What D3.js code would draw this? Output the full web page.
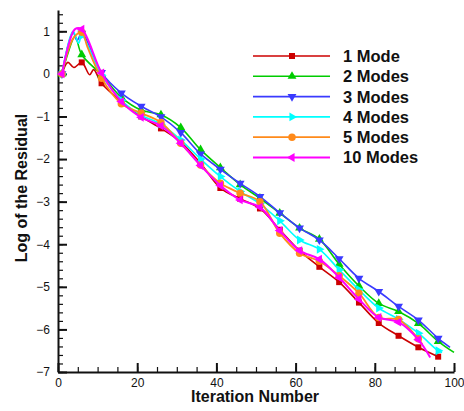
<!DOCTYPE html>
<html>
<head>
<meta charset="utf-8">
<script src="https://cdn.jsdelivr.net/npm/d3@7"></script>
<style>
  body { margin: 0; background: #fff; }
  svg { font-family: "Liberation Sans", Arial, sans-serif; }
  .tick text { font-size: 12px; fill: #111; }
  .axis-title { font-size: 16px; font-weight: bold; fill: #111; }
  .legend-label { font-size: 16.5px; font-weight: bold; fill: #111; }
</style>
</head>
<body>
<svg id="chart" width="464" height="411"></svg>
<script>
// [iteration, log residual]
const mode1 = [[1,0],[2.5,0.27],[4,0.15],[6,0.27],[8,-0.02],[9,0.1],[11,-0.22],[16,-0.65],[21,-1.0],[26,-1.28],[31,-1.6],[36,-2.1],[41,-2.68],[46,-2.93],[51,-3.16],[56,-3.66],[61,-4.15],[66,-4.53],[71,-4.89],[76,-5.37],[81,-5.85],[86,-6.15],[91,-6.42],[96,-6.64]];
const mode2 = [[1,0],[2.5,0.48],[4.3,0.88],[6,0.45],[11,-0.02],[16,-0.55],[21,-0.85],[26,-0.96],[31,-1.26],[36,-1.78],[41,-2.2],[46,-2.6],[51,-2.92],[56,-3.27],[61,-3.62],[66,-3.88],[71,-4.47],[76,-4.98],[81,-5.39],[86,-5.58],[91,-5.86],[96,-6.28],[100,-6.54]];
const mode3 = [[1,0],[3.8,0.98],[4.8,0.78],[6,0.95],[11,0.03],[16,-0.45],[21,-0.76],[26,-1.01],[31,-1.38],[36,-1.88],[41,-2.24],[46,-2.57],[51,-2.88],[56,-3.26],[61,-3.62],[66,-3.9],[71,-4.34],[76,-4.8],[81,-5.11],[86,-5.46],[91,-5.78],[96,-6.21],[99,-6.42]];
const mode4 = [[1,0],[3.8,1.0],[5.2,0.72],[6,0.9],[11,-0.03],[16,-0.62],[21,-0.97],[26,-1.18],[31,-1.55],[36,-2.0],[41,-2.41],[46,-2.76],[51,-3.05],[56,-3.45],[61,-3.9],[66,-4.12],[71,-4.6],[76,-5.07],[81,-5.5],[86,-5.76],[91,-6.09],[96,-6.5],[97,-6.54]];
const mode5 = [[1,0],[3.9,0.84],[6,0.98],[7.4,0.64],[11,-0.1],[16,-0.7],[21,-0.92],[26,-1.14],[31,-1.63],[36,-2.14],[41,-2.57],[46,-2.8],[51,-3.0],[56,-3.74],[61,-4.21],[66,-4.4],[71,-4.74],[76,-5.15],[81,-5.72],[86,-5.77],[91,-6.22],[92,-6.35]];
const mode10 = [[1,0],[4.3,1.05],[6,1.05],[11,0.02],[16,-0.65],[21,-1.02],[26,-1.22],[31,-1.63],[36,-2.15],[41,-2.62],[46,-2.96],[51,-3.13],[56,-3.68],[61,-4.15],[66,-4.35],[71,-4.78],[76,-5.29],[81,-5.72],[86,-5.83],[91,-6.24],[94,-6.66]];

const seriesNames = ["1 Mode", "2 Modes", "3 Modes", "4 Modes", "5 Modes", "10 Modes"];
const xTicks = [0, 20, 40, 60, 80, 100];
const yTicks = [-7, -6, -5, -4, -3, -2, -1, 0, 1];

const series = [
  { name: seriesNames[0], data: mode1, color: "#cc0000", symbol: d3.symbolSquare, rotate: 0, size: 36, width: 1.6 },
  { name: seriesNames[1], data: mode2, color: "#00cc00", symbol: d3.symbolTriangle, rotate: 0, size: 34, width: 1.6 },
  { name: seriesNames[2], data: mode3, color: "#3a3aff", symbol: d3.symbolTriangle, rotate: 180, size: 34, width: 1.6 },
  { name: seriesNames[3], data: mode4, color: "#00ffff", symbol: d3.symbolTriangle, rotate: 90, size: 34, width: 1.6 },
  { name: seriesNames[4], data: mode5, color: "#ff8a1a", symbol: d3.symbolCircle, rotate: 0, size: 44, width: 1.8 },
  { name: seriesNames[5], data: mode10, color: "#ff00ff", symbol: d3.symbolTriangle, rotate: -90, size: 34, width: 2 }
];

const svg = d3.select("#chart");
const x = d3.scaleLinear().domain([0, 100]).range([58, 454]);
const y = d3.scaleLinear().domain([-7, 1.5]).range([372, 10]);

// minor ticks
svg.append("g")
  .attr("transform", "translate(0,372)")
  .call(d3.axisBottom(x).tickValues(d3.range(0, 101, 5)).tickSize(-5).tickFormat(""))
  .call(g => g.select(".domain").remove())
  .call(g => g.selectAll("line").attr("stroke", "#111").attr("stroke-width", 1.2));

svg.append("g")
  .attr("transform", "translate(58,0)")
  .call(d3.axisLeft(y).tickValues(d3.range(-7, 1.5, 0.2)).tickSize(-5).tickFormat(""))
  .call(g => g.select(".domain").remove())
  .call(g => g.selectAll("line").attr("stroke", "#111").attr("stroke-width", 1.2));

// major ticks
svg.append("g")
  .attr("transform", "translate(0,372)")
  .call(d3.axisBottom(x).tickValues(xTicks).tickSize(-9).tickSizeOuter(0).tickPadding(6).tickFormat(d3.format("d")))
  .call(g => g.select(".domain").attr("stroke", "#111").attr("stroke-width", 2))
  .call(g => g.selectAll("line").attr("stroke", "#111").attr("stroke-width", 2));

svg.append("g")
  .attr("transform", "translate(58,0)")
  .call(d3.axisLeft(y).tickValues(yTicks).tickSize(-9).tickSizeOuter(0).tickPadding(8).tickFormat(d3.format("d")))
  .call(g => g.select(".domain").attr("stroke", "#111").attr("stroke-width", 2))
  .call(g => g.selectAll("line").attr("stroke", "#111").attr("stroke-width", 2));

svg.append("text")
  .attr("class", "axis-title")
  .attr("x", 255)
  .attr("y", 402)
  .attr("text-anchor", "middle")
  .text("Iteration Number");

svg.append("text")
  .attr("class", "axis-title")
  .attr("transform", "translate(27,188) rotate(-90)")
  .attr("text-anchor", "middle")
  .text("Log of the Residual");

const line = d3.line()
  .x(d => x(d[0]))
  .y(d => y(d[1]))
  .curve(d3.curveCatmullRom.alpha(0.5));

const isMarker = d => Number.isInteger(d[0]) && (d[0] - 1) % 5 === 0;

series.forEach(s => {
  const g = svg.append("g");
  g.append("path")
    .attr("d", line(s.data))
    .attr("fill", "none")
    .attr("stroke", s.color)
    .attr("stroke-width", s.width)
    .attr("stroke-linejoin", "round");

  g.selectAll("path.marker")
    .data(s.data.filter(isMarker))
    .enter()
    .append("path")
    .attr("class", "marker")
    .attr("d", d3.symbol().type(s.symbol).size(s.size))
    .attr("transform", d => `translate(${x(d[0])},${y(d[1])}) rotate(${s.rotate})`)
    .attr("fill", s.color);
});

// legend
const legend = svg.append("g");
series.forEach((s, i) => {
  const ly = 56 + i * 20.3;
  legend.append("line")
    .attr("x1", 253).attr("x2", 330)
    .attr("y1", ly).attr("y2", ly)
    .attr("stroke", s.color)
    .attr("stroke-width", s.width);
  legend.append("path")
    .attr("d", d3.symbol().type(s.symbol).size(s.size))
    .attr("transform", `translate(292,${ly}) rotate(${s.rotate})`)
    .attr("fill", s.color);
  legend.append("text")
    .attr("class", "legend-label")
    .attr("x", 343)
    .attr("y", ly)
    .attr("dy", "0.36em")
    .text(s.name);
});
</script>
</body>
</html>
